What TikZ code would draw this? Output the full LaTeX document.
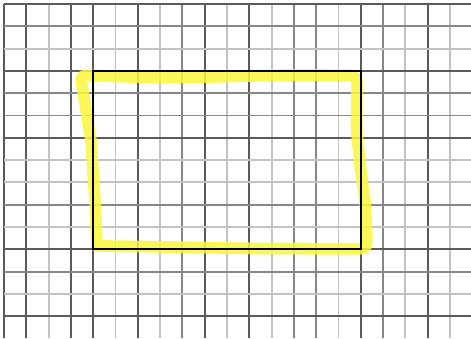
\documentclass[tikz,border=0pt]{standalone}
\usepackage{tikz}
\definecolor{gridD}{RGB}{90,90,90}
\definecolor{gridM}{RGB}{135,135,135}
\definecolor{gridL}{RGB}{195,195,195}
\definecolor{marker}{RGB}{250,246,60}

\begin{document}
\begin{tikzpicture}[gridline/.style={line width=2.4pt},
    highlight/.style={draw=marker, opacity=0.85, line width=15pt, line cap=round, line join=round, rounded corners=7pt}]
    \useasboundingbox (-0.179,-0.978) rectangle (20.942,14.179);
    % graph paper
    \foreach \x/\c in {0/gridD,1/gridD,2/gridL,3/gridD,4/gridD,5/gridL,6/gridD,7/gridL,8/gridM,9/gridD,10/gridL,
                       11/gridD,12/gridL,13/gridM,14/gridM,15/gridL,16/gridD,17/gridM,18/gridL,19/gridD,20/gridL} {
        \draw[gridline, draw=\c] (\x,-0.978) -- (\x,14);
    }
    \foreach \j/\c in {0/gridD,1/gridM,2/gridL,3/gridD,4/gridM,5/gridM,6/gridD,7/gridL,
                       8/gridL,9/gridM,10/gridL,11/gridD,12/gridM,13/gridL,14/gridD} {
        \draw[gridline, draw=\c] (0,14-\j) -- (20.942,14-\j);
    }
    % marker stroke
    \draw[highlight] (4.17,3.15) -- (4.08,5.2) -- (3.9,7.9) -- (3.68,9.25) -- (3.42,10.8)
        -- (6,10.72) -- (9,10.72) -- (12.8,10.82) -- (15.83,10.8)
        -- (15.81,8.35) -- (16.0,6.5) -- (16.19,5.2) -- (16.28,3.4) -- (16.23,3.02)
        -- (11,3.04) -- (6.5,3.12) -- (4.17,3.15);
    % rectangle
    \draw[line width=2.6pt] (4,3) rectangle (16,11);
\end{tikzpicture}
\end{document}
